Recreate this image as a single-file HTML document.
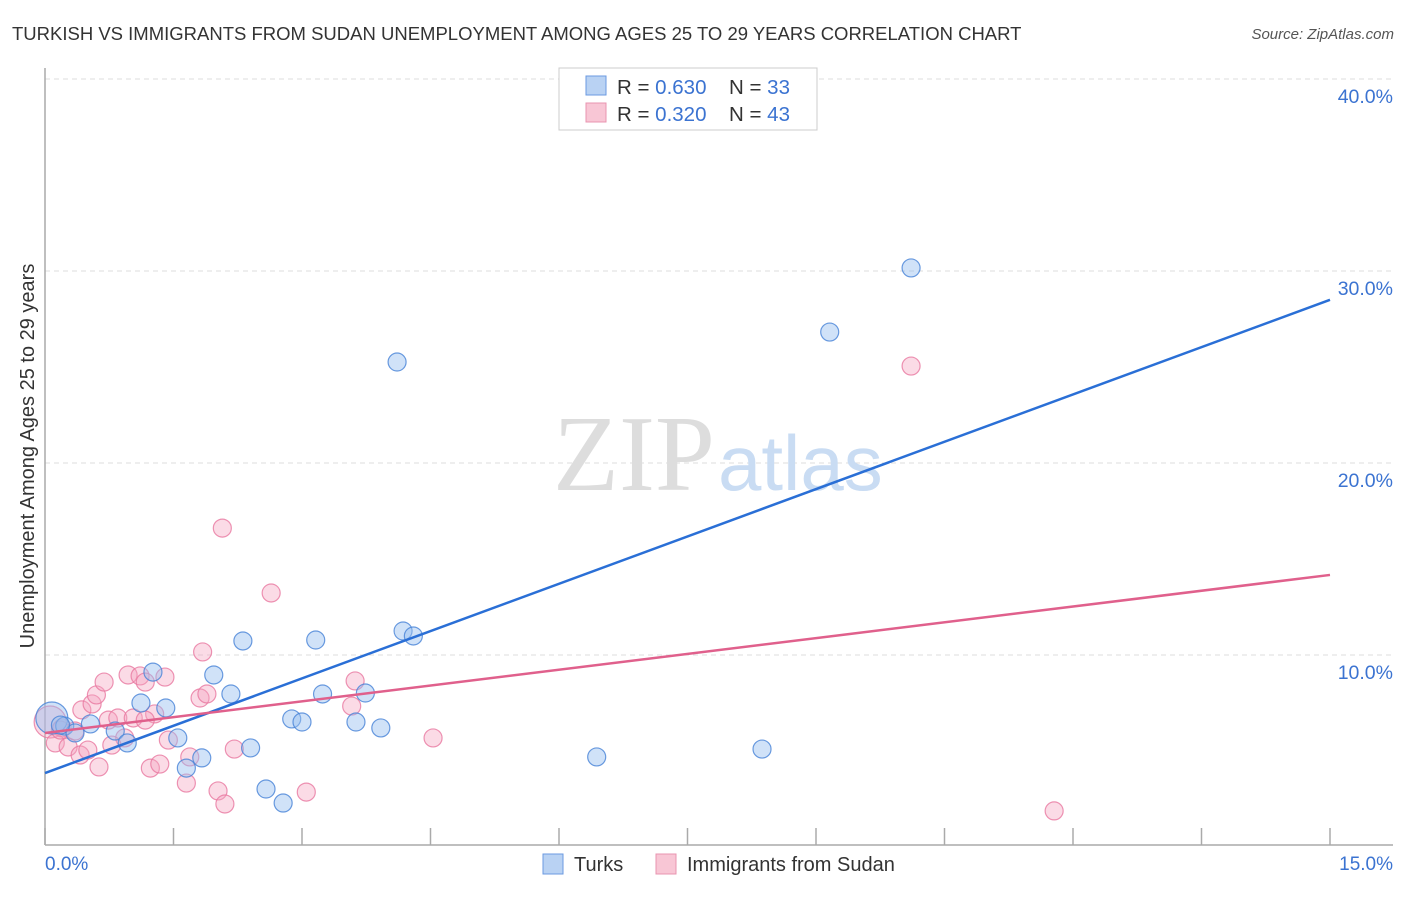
<!DOCTYPE html>
<html><head><meta charset="utf-8"><style>
body{margin:0;background:#fff;font-family:"Liberation Sans",sans-serif;}
svg text{font-family:"Liberation Sans",sans-serif;}
</style></head><body>
<svg id="chart" width="1406" height="892" xmlns="http://www.w3.org/2000/svg">
<text x="12" y="40" font-size="18.5" fill="#333">TURKISH VS IMMIGRANTS FROM SUDAN UNEMPLOYMENT AMONG AGES 25 TO 29 YEARS CORRELATION CHART</text>
<text x="1394" y="39" font-size="15" fill="#555" font-style="italic" text-anchor="end">Source: ZipAtlas.com</text>
<g id="grid"></g>
<text x="553" y="490" font-size="108" fill="#ddd" style="font-family:'Liberation Serif',serif">ZIP</text>
<text x="718" y="490" font-size="78" fill="#c9dcf3">atlas</text>
<line x1="45" y1="68" x2="45" y2="845" stroke="#aaa" stroke-width="1.5"/>
<line x1="45" y1="845" x2="1393" y2="845" stroke="#aaa" stroke-width="1.5"/>
<g id="ticks"></g>
<text transform="translate(34,456) rotate(-90)" font-size="20" fill="#333" text-anchor="middle">Unemployment Among Ages 25 to 29 years</text>
<text x="45" y="870" font-size="19" fill="#3b73d1">0.0%</text>
<text x="1393" y="870" font-size="19" fill="#3b73d1" text-anchor="end">15.0%</text>
<g id="points"></g>
<g id="lines"></g>
<g>
<rect x="559" y="68" width="258" height="62" fill="#fff" stroke="#ccc"/>
<rect x="586" y="76" width="20" height="19" fill="#b9d2f3" stroke="#6b9ae0"/>
<rect x="586" y="103" width="20" height="19" fill="#f8c6d5" stroke="#e994b0"/>
<text x="617" y="94" font-size="20.5" fill="#333">R = <tspan fill="#3b73d1">0.630</tspan><tspan x="729">N = </tspan><tspan fill="#3b73d1">33</tspan></text>
<text x="617" y="121" font-size="20.5" fill="#333">R = <tspan fill="#3b73d1">0.320</tspan><tspan x="729">N = </tspan><tspan fill="#3b73d1">43</tspan></text>
</g>
<g>
<rect x="543" y="854" width="20" height="20" fill="#b9d2f3" stroke="#6b9ae0"/>
<text x="574" y="871" font-size="20" fill="#333">Turks</text>
<rect x="656" y="854" width="20" height="20" fill="#f8c6d5" stroke="#e994b0"/>
<text x="687" y="871" font-size="20" fill="#333">Immigrants from Sudan</text>
</g>
</svg>
<script>
const yTicks=[10,20,30,40];
const yTickLabels=["10.0%","20.0%","30.0%","40.0%"];
const xTickValues=[0,1.5,3,4.5,6,7.5,9,10.5,12,13.5,15];
const turksX=[0.08,0.23,0.53,0.35,0.82,0.96,1.12,1.26,1.41,1.55,1.65,1.83,1.97,2.17,2.31,2.40,2.58,2.78,2.88,3.00,3.16,3.24,3.63,3.74,3.92,4.11,4.18,4.30,6.44,8.37,9.16,10.11,0.18];
const turksY=[6.72,6.30,6.41,5.94,6.04,5.42,7.50,9.11,7.24,5.68,4.11,4.64,8.96,7.97,10.73,5.16,3.02,2.29,6.67,6.51,10.78,7.97,6.51,8.02,6.20,25.26,11.25,10.99,4.69,5.10,26.82,30.16,6.35];
const sudanX=[0.06,0.12,0.20,0.27,0.35,0.41,0.50,0.43,0.55,0.60,0.63,0.69,0.74,0.85,0.93,0.97,1.03,1.11,1.17,1.23,1.28,1.34,1.40,1.44,1.65,1.69,1.81,1.84,1.89,2.02,2.07,2.10,2.21,2.64,3.05,3.58,3.62,4.53,10.11,11.78,0.18,0.78,1.17];
const sudanY=[6.51,5.42,6.20,5.21,6.04,4.79,5.05,7.14,7.45,7.92,4.17,8.59,6.61,6.72,5.68,8.96,6.72,8.91,8.59,4.11,6.93,4.32,8.85,5.57,3.33,4.69,7.76,10.16,7.97,2.92,16.61,2.24,5.10,13.23,2.86,7.34,8.65,5.68,25.05,1.88,6.09,5.31,6.61];
const turksTrend=[3.85,28.5];
const sudanTrend=[5.94,14.17];
const NS="http://www.w3.org/2000/svg";
const sx=v=>45+v/15*1285;
const sy=v=>847-v*19.2;
function mk(tag,attrs,parent){const e=document.createElementNS(NS,tag);for(const k in attrs)e.setAttribute(k,attrs[k]);parent.appendChild(e);return e;}
const grid=document.getElementById('grid');
yTicks.forEach((t,i)=>{
 const l=mk('line',{x1:45,x2:1393,y1:sy(t),y2:sy(t),stroke:'#ddd','stroke-dasharray':'5,4'},grid);
 
 
 const tx=mk('text',{x:1393,y:sy(t)+24,'font-size':19.5,fill:'#3b73d1','text-anchor':'end'},grid);
 tx.textContent=yTickLabels[i];
 
 
});
const ticks=document.getElementById('ticks');
xTickValues.forEach(v=>{
 const l=mk('line',{x1:sx(v),x2:sx(v),y1:828,y2:845,stroke:'#aaa','stroke-width':1.5},ticks);
 
 
});
const pts=document.getElementById('points');
function drawSeries(xs,ys,fill,stroke,name){
 xs.forEach((x,i)=>{
  const big=(i===0);
  const c=mk('circle',{cx:sx(x),cy:sy(ys[i]),r:big?16:9,fill:fill,stroke:stroke,'stroke-width':1.2},pts);
  
  
 });
}
drawSeries(sudanX,sudanY,'rgba(245,165,192,0.4)','rgba(232,120,160,0.8)','sudan-point');
drawSeries(turksX,turksY,'rgba(150,190,240,0.45)','rgba(70,130,215,0.8)','turks-point');
const lines=document.getElementById('lines');
const tl=mk('line',{x1:sx(0),y1:sy(turksTrend[0]),x2:sx(15),y2:sy(turksTrend[1]),stroke:'#2a6fd6','stroke-width':2.5},lines);


const pl=mk('line',{x1:sx(0),y1:sy(sudanTrend[0]),x2:sx(15),y2:sy(sudanTrend[1]),stroke:'#e0608c','stroke-width':2.5},lines);


</script>
</body></html>
